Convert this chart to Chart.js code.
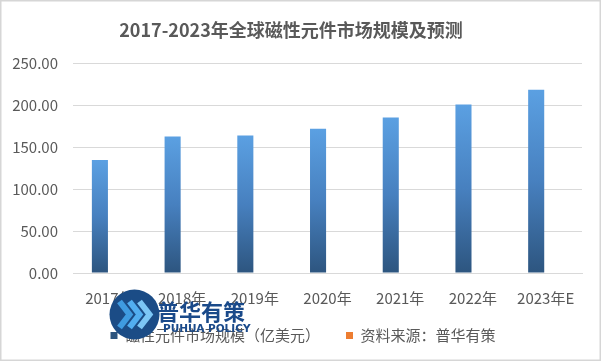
<!DOCTYPE html>
<html>
<head>
<meta charset="utf-8">
<script src="https://cdn.jsdelivr.net/npm/chart.js@4"></script>
<style>
html,body{margin:0;padding:0;background:#fff;}
#wrap{width:601px;height:361px;position:relative;}
</style>
</head>
<body>
<div id="wrap"><canvas id="c" width="601" height="361"></canvas></div>
<script>
const titleText = '2017-2023年全球磁性元件市场规模及预测';
const categories = ['2017年','2018年','2019年','2020年','2021年','2022年','2023年E'];
const marketValues = [135.0, 162.9, 164.1, 172.1, 185.7, 201.2, 218.9];
const sourceValues = [null, null, null, null, null, null, null];
const seriesLabels = ['磁性元件市场规模（亿美元）', '资料来源：普华有策'];
const yTicks = [0, 50, 100, 150, 200, 250];

const FONT = '"Microsoft YaHei", "Noto Sans CJK SC", "Noto Sans", sans-serif';

function barGradient(ctx) {
  const chart = ctx.chart;
  const y = chart.scales && chart.scales.y;
  if (!chart.chartArea || !y || ctx.parsed == null || ctx.parsed.y == null) return '#4a86c5';
  const top = y.getPixelForValue(ctx.parsed.y);
  const base = y.getPixelForValue(0);
  if (!isFinite(top) || !isFinite(base) || top === base) return '#4a86c5';
  const g = chart.ctx.createLinearGradient(0, top, 0, base);
  g.addColorStop(0, '#5ba0e2');
  g.addColorStop(0.5, '#4780bf');
  g.addColorStop(1, '#2d557f');
  return g;
}

const legendShift = {
  id: 'legendShift',
  afterLayout(chart) {
    if (chart.legend) { chart.legend.left += 12; chart.legend.right += 12; }
  }
};

const extras = {
  id: 'extras',
  afterDraw(chart) {
    const c = chart.ctx;
    c.save();
    // logo watermark
    const cx = 134.5, cy = 314.5, r = 25;
    c.beginPath();
    c.arc(cx, cy, r, 0, Math.PI * 2);
    c.fillStyle = '#1b4c86';
    c.fill();
    c.lineCap = 'butt';
    c.lineJoin = 'miter';
    const chev = [[-15, '#3f9be0'], [-5, '#52aef0'], [5, '#7cc6f5']];
    chev.forEach(([dx, col]) => {
      c.beginPath();
      c.moveTo(cx + dx, cy - 13);
      c.lineTo(cx + dx + 10, cy);
      c.lineTo(cx + dx, cy + 13);
      c.strokeStyle = col;
      c.lineWidth = 6;
      c.stroke();
    });
    c.fillStyle = '#1a4a8a';
    c.font = 'bold 22px ' + FONT;
    c.textBaseline = 'alphabetic';
    c.textAlign = 'left';
    c.fillText('普华有策', 157, 320);
    c.font = 'bold 10.5px "DejaVu Sans", sans-serif';
    c.fillText('PUHUA POLICY', 163, 332);
    // frame
    c.strokeStyle = '#d6d6d6';
    c.lineWidth = 1.5;
    c.strokeRect(0.75, 0.75, 599.5, 359.5);
    c.restore();
  }
};

new Chart(document.getElementById('c'), {
  type: 'bar',
  data: {
    labels: categories,
    datasets: [
      { label: seriesLabels[0], data: marketValues, backgroundColor: barGradient,
        categoryPercentage: 0.52, barPercentage: 0.85 },
      { label: seriesLabels[1], data: sourceValues, backgroundColor: '#ED7D31',
        categoryPercentage: 0.52, barPercentage: 0.85 }
    ]
  },
  options: {
    responsive: false,
    animation: false,
    devicePixelRatio: 1,
    layout: { padding: { left: 0, right: 19, top: 0, bottom: 8 } },
    plugins: {
      title: {
        display: true, text: titleText, color: '#595959',
        font: { family: FONT, size: 18, weight: 'bold' },
        padding: { top: 19, bottom: 23 }
      },
      legend: {
        position: 'bottom',
        labels: {
          color: '#595959', boxWidth: 7, boxHeight: 7, padding: 26,
          font: { family: FONT, size: 15 }
        }
      },
      tooltip: { enabled: false }
    },
    scales: {
      x: {
        grid: { display: false, drawTicks: false },
        border: { display: true, color: '#d9d9d9' },
        ticks: { color: '#595959', padding: 16, maxRotation: 0, font: { family: FONT, size: 15 } },
        afterFit(s) { s.height = 29; s._computeLabelArea = () => undefined; }
      },
      y: {
        min: 0, max: 250,
        afterBuildTicks(s) { s.ticks = yTicks.map(v => ({ value: v })); },
        grid: { color: '#d9d9d9', drawTicks: false },
        border: { display: false },
        ticks: { color: '#595959', padding: 15, font: { family: FONT, size: 15 },
                 callback: v => Number(v).toFixed(2) },
        afterFit(s) { s.width = 73; }
      }
    }
  },
  plugins: [legendShift, extras]
});
</script>
</body>
</html>
